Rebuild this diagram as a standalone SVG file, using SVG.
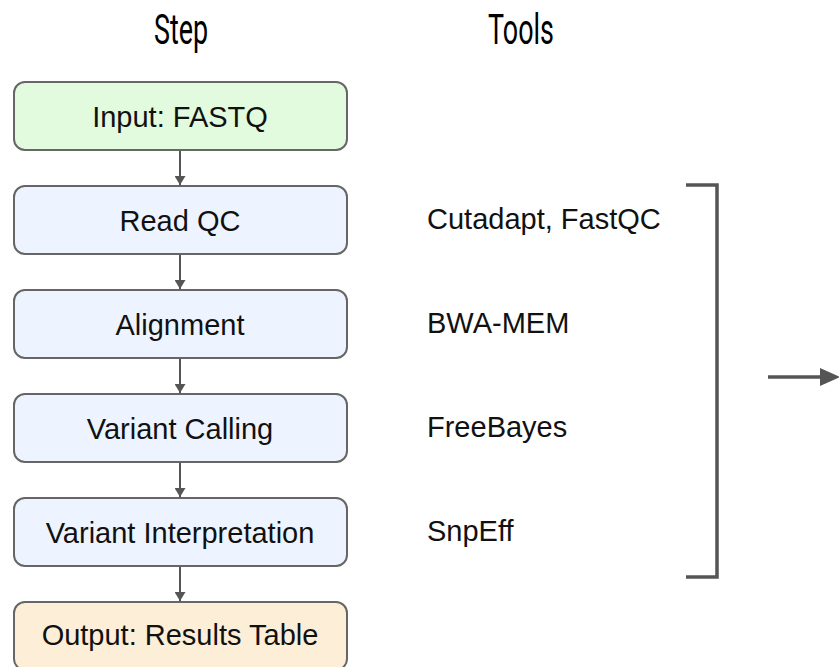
<svg xmlns="http://www.w3.org/2000/svg" width="839" height="667" viewBox="0 0 839 667">
<style>
.box{stroke:#666;stroke-width:2}
.lbl{font-family:"Liberation Sans",Arial,sans-serif;font-size:29px;fill:#111;text-anchor:middle}
.tool{font-family:"Liberation Sans",Arial,sans-serif;font-size:29px;fill:#111}
.hdr{font-family:Roboto,"Liberation Sans",sans-serif;font-size:42px;font-weight:400;fill:#000;text-anchor:middle}
.conn{stroke:#555;stroke-width:2;fill:none}
.thick{stroke:#555;stroke-width:3.5;fill:none}
</style>
<defs>
<marker id="ah" viewBox="0 0 10 10" refX="10" refY="5" markerWidth="9" markerHeight="11" markerUnits="userSpaceOnUse" orient="auto" preserveAspectRatio="none">
<path d="M0,0 L10,5 L0,10 z" fill="#555"/>
</marker>
</defs>
<rect width="839" height="667" fill="#fff"/>
<g id="headers">
<text class="hdr" transform="translate(181,44) scale(0.64,1)">Step</text>
<text class="hdr" transform="translate(521,44) scale(0.64,1)">Tools</text>
</g>
<g id="connectors">
<line class="conn" x1="180" y1="151" x2="180" y2="185" marker-end="url(#ah)"/>
<line class="conn" x1="180" y1="255" x2="180" y2="289" marker-end="url(#ah)"/>
<line class="conn" x1="180" y1="359" x2="180" y2="393" marker-end="url(#ah)"/>
<line class="conn" x1="180" y1="463" x2="180" y2="497" marker-end="url(#ah)"/>
<line class="conn" x1="180" y1="567" x2="180" y2="601" marker-end="url(#ah)"/>
<path class="thick" d="M686,185 H717 V577 H686"/>
<line class="thick" x1="768" y1="377" x2="822" y2="377"/>
<path d="M820,368 L840,377 L820,386 z" fill="#555"/>
</g>
<g id="n_input">
<rect class="box" x="14" y="82" width="333" height="68" rx="11" fill="#e2fbdf"/>
<text class="lbl" x="180" y="126.5">Input: FASTQ</text>
</g>
<g id="n_readqc">
<rect class="box" x="14" y="186" width="333" height="68" rx="11" fill="#eef4ff"/>
<text class="lbl" x="180" y="231">Read QC</text>
</g>
<g id="n_align">
<rect class="box" x="14" y="290" width="333" height="68" rx="11" fill="#eef4ff"/>
<text class="lbl" x="180" y="335">Alignment</text>
</g>
<g id="n_vc">
<rect class="box" x="14" y="394" width="333" height="68" rx="11" fill="#eef4ff"/>
<text class="lbl" x="180" y="439">Variant Calling</text>
</g>
<g id="n_vi">
<rect class="box" x="14" y="498" width="333" height="68" rx="11" fill="#eef4ff"/>
<text class="lbl" x="180" y="543">Variant Interpretation</text>
</g>
<g id="n_output">
<rect class="box" x="14" y="602" width="333" height="68" rx="11" fill="#fdeed8"/>
<text class="lbl" x="180" y="645">Output: Results Table</text>
</g>
<g id="tools">
<text class="tool" x="427" y="229">Cutadapt, FastQC</text>
<text class="tool" x="427" y="333">BWA-MEM</text>
<text class="tool" x="427" y="437">FreeBayes</text>
<text class="tool" x="427" y="541">SnpEff</text>
</g>
</svg>
